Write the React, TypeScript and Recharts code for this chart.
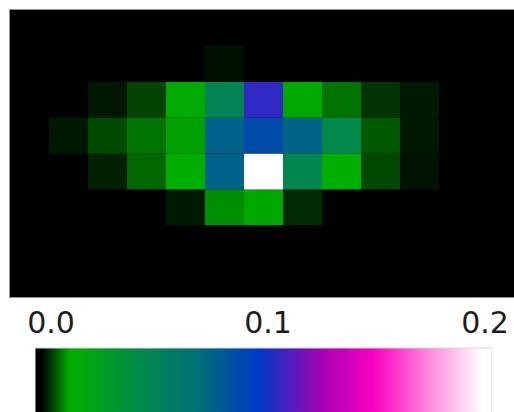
import React from "react";
import { BarChart, Bar, Cell, XAxis, YAxis } from "recharts";

// heat map: 13 columns x 8 rows (0 .. 0.2)
const columns = [0, 1, 2, 3, 4, 5, 6, 7, 8, 9, 10, 11, 12];
const row0 = [0, 0, 0, 0, 0, 0, 0, 0, 0, 0, 0, 0, 0];
const row1 = [0, 0, 0, 0, 0, 0.0041, 0, 0, 0, 0, 0, 0, 0];
const row2 = [0, 0, 0.0047, 0.0078, 0.015, 0.052, 0.106, 0.0149, 0.0112, 0.0066, 0.0048, 0, 0];
const row3 = [0, 0.0047, 0.0082, 0.0112, 0.0143, 0.078, 0.088, 0.077, 0.047, 0.0094, 0.0047, 0, 0];
const row4 = [0, 0, 0.0053, 0.0102, 0.016, 0.078, 0.2, 0.05, 0.016, 0.008, 0.0043, 0, 0];
const row5 = [0, 0, 0, 0, 0.0048, 0.0131, 0.0148, 0.006, 0, 0, 0, 0, 0];
const row6 = [0, 0, 0, 0, 0, 0, 0, 0, 0, 0, 0, 0, 0];
const row7 = [0, 0, 0, 0, 0, 0, 0, 0, 0, 0, 0, 0, 0];
const rows = [row0, row1, row2, row3, row4, row5, row6, row7];

const colorbarTicks = [0, 0.1, 0.2];
const vMax = 0.2;
// the coloured strip runs a little past the tick range
const barStart = -0.0074;
const barEnd = 0.2032;

const stops: [number, string][] = [
  [0, "#000000"],
  [0.015, "#000000"],
  [0.077, "#00b000"],
  [0.23, "#008a48"],
  [0.36, "#006f78"],
  [0.49, "#0038c8"],
  [0.63, "#a800b4"],
  [0.74, "#f800c0"],
  [0.87, "#ff90e0"],
  [0.98, "#ffffff"],
  [1, "#ffffff"],
];

const hex = (s: string) => [1, 3, 5].map((i) => parseInt(s.slice(i, i + 2), 16));

const colorFor = (v: number) => {
  const t = Math.max(0, Math.min(1, v / vMax));
  for (let i = 1; i < stops.length; i++) {
    if (t <= stops[i][0]) {
      const [t0, c0] = stops[i - 1];
      const [t1, c1] = stops[i];
      const f = t1 === t0 ? 0 : (t - t0) / (t1 - t0);
      const a = hex(c0);
      const b = hex(c1);
      const rgb = a.map((x, k) => Math.round(x + (b[k] - x) * f));
      return `rgb(${rgb.join(",")})`;
    }
  }
  return stops[stops.length - 1][1];
};

const heatData = columns.map((c) => {
  const o: any = { col: c };
  rows.forEach((_, r) => (o["r" + r] = 1));
  return o;
});

const cbarData = [{ name: "scale", range: [barStart, barEnd] }];

export default function App() {
  // stacking goes bottom-up, so the last row is drawn first
  const order = rows.map((_, i) => rows.length - 1 - i);
  return (
    <div style={{ position: "absolute", left: 0, top: 0, width: 514, height: 412, overflow: "hidden", background: "#fff" }}>
      <div
        style={{
          position: "absolute",
          left: 9,
          top: 9,
          width: 507,
          height: 287,
          border: "1px solid #8c8c8c",
          background: "#000",
        }}
      >
        <BarChart
          width={507}
          height={287}
          data={heatData}
          margin={{ top: 0, right: 0, bottom: 0, left: 0 }}
          barCategoryGap={0}
          barGap={0}
        >
          <XAxis dataKey="col" hide />
          <YAxis type="number" domain={[0, rows.length]} hide />
          {order.map((r) => (
            <Bar key={r} dataKey={"r" + r} stackId="a" isAnimationActive={false}>
              {columns.map((c) => (
                <Cell key={c} fill={colorFor(rows[r][c])} />
              ))}
            </Bar>
          ))}
        </BarChart>
      </div>
      <div style={{ position: "absolute", left: 0, top: 300 }}>
        <BarChart
          width={514}
          height={135}
          data={cbarData}
          layout="vertical"
          margin={{ top: 18, right: 22, bottom: 0, left: 35 }}
          barCategoryGap={0}
        >
          <defs>
            <linearGradient id="cbar" x1="0" y1="0" x2="1" y2="0">
              {stops.map(([o, c], i) => (
                <stop key={i} offset={o} stopColor={c} />
              ))}
            </linearGradient>
          </defs>
          <XAxis
            type="number"
            orientation="top"
            domain={[barStart, barEnd]}
            ticks={colorbarTicks}
            tickFormatter={(v: number) => v.toFixed(1)}
            axisLine={false}
            tickLine={false}
            tickSize={0}
            tickMargin={15}
            height={30}
            interval={0}
            allowDataOverflow
            tick={{ fontSize: 30, fill: "#1e1e1e", fontFamily: "DejaVu Sans" }}
          />
          <YAxis type="category" dataKey="name" hide />
          <Bar dataKey="range" fill="url(#cbar)" stroke="#d8d8d8" strokeWidth={1} isAnimationActive={false} />
        </BarChart>
      </div>
    </div>
  );
}
